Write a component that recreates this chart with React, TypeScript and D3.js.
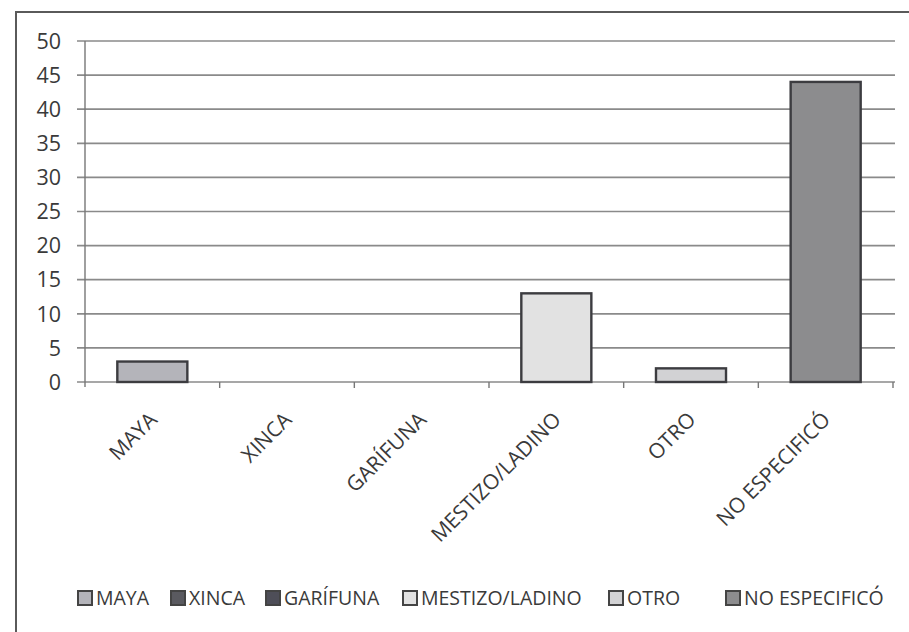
import React from "react";
import * as d3 from "d3";

const categories = ["MAYA", "XINCA", "GARÍFUNA", "MESTIZO/LADINO", "OTRO", "NO ESPECIFICÓ"];
const values = [3, 0, 0, 13, 2, 44];
const fills = ["#b4b4ba", "#5a5a60", "#4e4e58", "#e2e2e2", "#d2d2d4", "#8c8c8e"];
const yTicks = [0, 5, 10, 15, 20, 25, 30, 35, 40, 45, 50];

// legend item left edges (layout)
const legendLayout = [77, 170, 265, 402, 608, 725];

const W = 909;
const H = 632;
const FONT = "'Open Sans', 'DejaVu Sans', sans-serif";

export default function App() {
  const left = 85;
  const right = 893;
  const top = 41;
  const bottom = 382;
  const x = d3.scaleBand<string>().domain(categories).range([left, right]).paddingInner(0.48).paddingOuter(0.24);
  const xb = d3.scaleBand<string>().domain(categories).range([left, right]);
  const y = d3.scaleLinear().domain([0, 50]).range([bottom, top]);

  return (
    <svg width={W} height={H} style={{ position: "absolute", left: 0, top: 0, background: "#fff" }}>
      <rect x={16} y={12} width={920} height={660} fill="#fff" stroke="#5a5a5a" strokeWidth={2} />
      {yTicks.map((t) => (
        <g key={t}>
          <line x1={77} x2={895} y1={y(t)} y2={y(t)} stroke="#8a8a8a" strokeWidth={1.7} />
          <text x={61} y={y(t)} dy="0.36em" textAnchor="end" fontFamily={FONT} fontSize={21.5} fill="#3a3a3a">
            {t}
          </text>
        </g>
      ))}
      <line x1={left} x2={left} y1={top} y2={bottom + 5} stroke="#777" strokeWidth={1.4} />
      {categories.map((c) => (
        <line key={c} x1={(xb(c) as number) + xb.bandwidth()} x2={(xb(c) as number) + xb.bandwidth()} y1={bottom} y2={bottom + 6} stroke="#777" strokeWidth={1.4} />
      ))}
      {categories.map((c, i) =>
        values[i] > 0 ? (
          <rect
            key={c}
            x={x(c)}
            y={y(values[i])}
            width={x.bandwidth()}
            height={bottom - y(values[i])}
            fill={fills[i]}
            stroke="#3c3c40"
            strokeWidth={2.4}
          />
        ) : null
      )}
      {categories.map((c) => {
        const cx = (xb(c) as number) + xb.bandwidth() / 2 + 6;
        const cy = bottom + 39;
        return (
          <text
            key={c}
            x={cx}
            y={cy}
            textAnchor="end"
            transform={`rotate(-45 ${cx} ${cy})`}
            fontFamily={FONT}
            fontSize={21}
            fill="#3a3a3a"
          >
            {c}
          </text>
        );
      })}
      {categories.map((c, i) => (
        <g key={c}>
          <rect x={legendLayout[i] + 1} y={591} width={14} height={14} fill={fills[i]} stroke="#444" strokeWidth={2} />
          <text x={legendLayout[i] + 19} y={598} dy="0.36em" fontFamily={FONT} fontSize={19.5} fill="#3a3a3a">
            {c}
          </text>
        </g>
      ))}
    </svg>
  );
}
